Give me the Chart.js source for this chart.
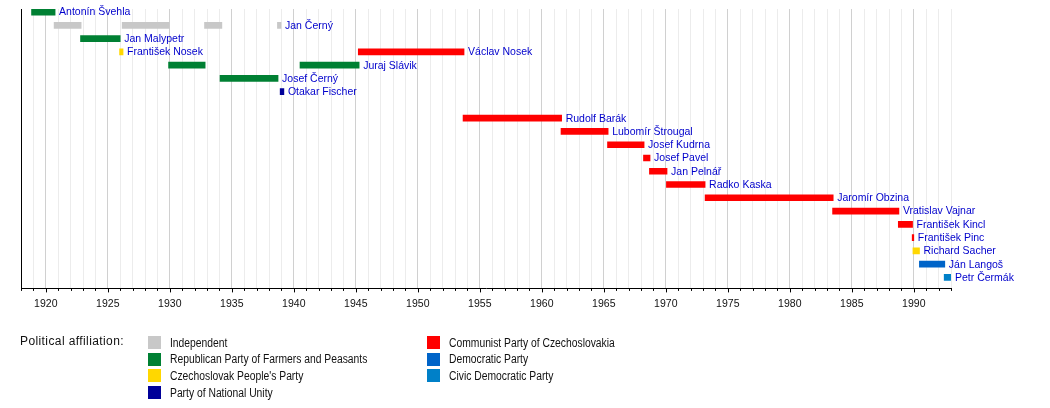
<!DOCTYPE html>
<html>
<head>
<meta charset="utf-8">
<script src="https://cdn.jsdelivr.net/npm/chart.js@4.4.0/dist/chart.umd.min.js"></script>
<style>
  body { margin: 0; background: #fff; }
  #wrap { position: relative; width: 1050px; height: 408px; font-family: "Liberation Sans", Arial, sans-serif; }
  #chart { position: absolute; left: 0; top: 0; }
  .title { position: absolute; left: 20px; top: 334px; font-size: 12px; letter-spacing: 0.4px; color: #111; }
  .sw { position: absolute; width: 13px; height: 13px; }
  .lt { position: absolute; font-size: 12px; color: #111; transform: scaleX(0.86); transform-origin: left center; white-space: nowrap; }
</style>
</head>
<body>
<div id="wrap">
  <canvas id="chart" width="1050" height="408"></canvas>
  <div class="title">Political affiliation:</div>
  <div id="legend"></div>
</div>
<script>
// Parties (legend order) and their colours
const partyNames = [
    'Independent',
    'Republican Party of Farmers and Peasants',
    "Czechoslovak People's Party",
    'Party of National Unity',
    'Communist Party of Czechoslovakia',
    'Democratic Party',
    'Civic Democratic Party'
];
const partyColors = ['#c8c8c8', '#008033', '#ffd700', '#000099', '#ff0000', '#0064c8', '#0080c8'];

// Terms in office: label, row, start year, end year, party index
const termNames = [
    'Antonín Švehla', '', '', '', 'Jan Černý', 'Jan Malypetr', 'František Nosek', 'Václav Nosek',
    '', 'Juraj Slávik', 'Josef Černý', 'Otakar Fischer', 'Rudolf Barák', 'Lubomír Štrougal',
    'Josef Kudrna', 'Josef Pavel', 'Jan Pelnář', 'Radko Kaska', 'Jaromír Obzina', 'Vratislav Vajnar',
    'František Kincl', 'František Pinc', 'Richard Sacher', 'Ján Langoš', 'Petr Čermák'
];
const termRows = [0, 1, 1, 1, 1, 2, 3, 3, 4, 4, 5, 6, 8, 9, 10, 11, 12, 13, 14, 15, 16, 17, 18, 19, 20];
const termStarts = [
    1918.85, 1920.67, 1926.16, 1932.8, 1938.68, 1922.8, 1925.95, 1945.2,
    1929.9, 1940.5, 1934.05, 1938.9, 1953.65, 1961.55, 1965.3, 1968.2,
    1968.68, 1970.05, 1973.17, 1983.45, 1988.75, 1989.87, 1989.93, 1990.45, 1992.45
];
const termEnds = [
    1920.75, 1922.85, 1929.95, 1934.2, 1938.97, 1926.0, 1926.23, 1953.73,
    1932.85, 1945.27, 1938.73, 1939.2, 1961.6, 1965.35, 1968.25, 1968.73,
    1970.1, 1973.17, 1983.5, 1988.8, 1989.9, 1990.0, 1990.46, 1992.5, 1993.0
];
const termParties = [1, 0, 0, 0, 0, 1, 2, 4, 1, 1, 1, 3, 4, 4, 4, 4, 4, 4, 4, 4, 4, 4, 2, 5, 6];

// Axis range
const yearMin = 1918;
const yearMax = 1993;
const rowCount = 21;

// one dataset per party, bars overlap on their row
const datasets = partyNames.map((name, p) => {
    const data = [];
    termParties.forEach((tp, i) => {
        if (tp === p) {
            data.push({ x: [termStarts[i], termEnds[i]], y: termRows[i], name: termNames[i] });
        }
    });
    return {
        label: name,
        data: data,
        backgroundColor: partyColors[p],
        borderWidth: 0,
        borderSkipped: false,
        barThickness: 6,
        grouped: false
    };
});

// labels to the right of each bar
const barLabels = {
    id: 'barLabels',
    afterDatasetsDraw(chart) {
        const ctx = chart.ctx;
        ctx.save();
        ctx.font = '10.5px "Liberation Sans", Arial, sans-serif';
        ctx.fillStyle = '#0000cc';
        ctx.textBaseline = 'middle';
        chart.data.datasets.forEach((ds, di) => {
            chart.getDatasetMeta(di).data.forEach((el, i) => {
                const name = ds.data[i].name;
                if (!name) return;
                ctx.fillText(name, Math.max(el.x, el.base) + 4, el.y + 0.5);
            });
        });
        ctx.restore();
    }
};

// small tick marks under the time axis, longer every 5 years
const yearTicks = {
    id: 'yearTicks',
    afterDraw(chart) {
        const ctx = chart.ctx;
        const xs = chart.scales.x;
        const bottom = chart.chartArea.bottom;
        ctx.save();
        ctx.strokeStyle = '#000';
        ctx.lineWidth = 1;
        for (let v = yearMin; v <= yearMax; v++) {
            const px = Math.round(xs.getPixelForValue(v)) + 0.5;
            ctx.beginPath();
            ctx.moveTo(px, bottom);
            ctx.lineTo(px, bottom + (v % 5 === 0 ? 4 : 2.5));
            ctx.stroke();
        }
        ctx.restore();
    }
};

new Chart(document.getElementById('chart'), {
    type: 'bar',
    data: { datasets: datasets },
    options: {
        indexAxis: 'y',
        responsive: false,
        animation: false,
        devicePixelRatio: 1,
        layout: { padding: { left: 21, right: 99, top: 9, bottom: 89 } },
        plugins: { legend: { display: false }, tooltip: { enabled: false } },
        scales: {
            x: {
                type: 'linear',
                min: yearMin,
                max: yearMax,
                ticks: {
                    stepSize: 1,
                    autoSkip: false,
                    maxRotation: 0,
                    padding: 9,
                    color: '#111',
                    font: { family: '"Liberation Sans", Arial, sans-serif', size: 10.5 },
                    callback: v => (v % 5 === 0 ? String(v) : '')
                },
                grid: {
                    drawTicks: false,
                    color: c => (c.tick && c.tick.value % 5 === 0 ? '#d0d0d0' : '#ececec')
                },
                border: { display: true, color: '#000' }
            },
            y: {
                type: 'linear',
                reverse: true,
                offset: false,
                min: -0.23,
                max: rowCount - 0.17,
                ticks: { display: false },
                grid: { display: false, drawTicks: false },
                border: { display: true, color: '#000' }
            }
        }
    },
    plugins: [barLabels, yearTicks]
});

// legend below the chart
const legend = document.getElementById('legend');
const legendCols = [[0, 1, 2, 3], [4, 5, 6]];
const colX = [148, 427];
legendCols.forEach((col, c) => {
    col.forEach((p, r) => {
        const top = 336 + r * 16.7;
        const sw = document.createElement('div');
        sw.className = 'sw';
        sw.style.left = colX[c] + 'px';
        sw.style.top = top + 'px';
        sw.style.background = partyColors[p];
        legend.appendChild(sw);
        const t = document.createElement('div');
        t.className = 'lt';
        t.style.left = (colX[c] + 22) + 'px';
        t.style.top = (top - 0.5) + 'px';
        t.textContent = partyNames[p];
        legend.appendChild(t);
    });
});
</script>
</body>
</html>
